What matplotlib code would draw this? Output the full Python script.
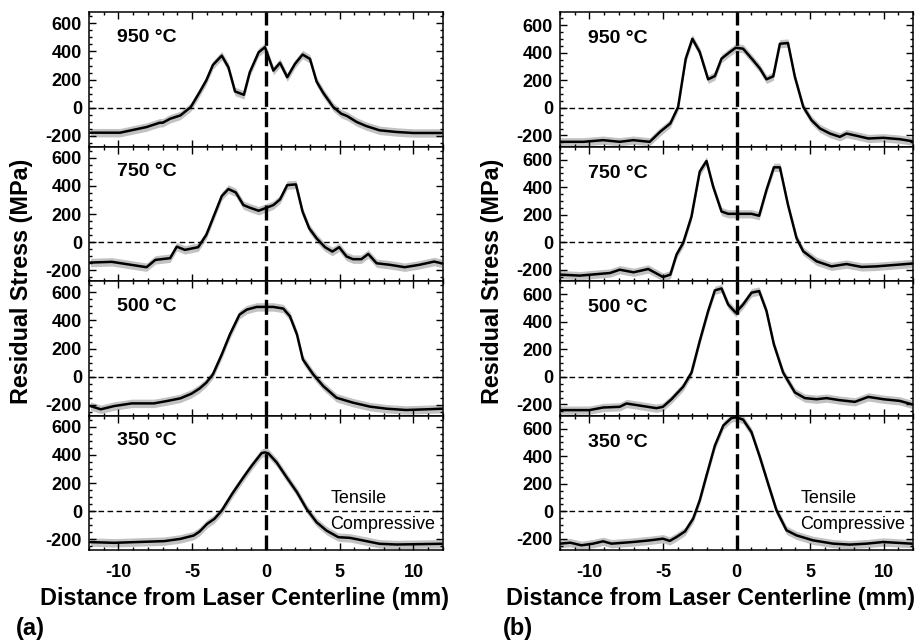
import matplotlib
matplotlib.use("Agg")
import matplotlib.pyplot as plt
from matplotlib.ticker import MultipleLocator
import numpy as np

plt.rcParams['font.family'] = ['Liberation Sans', 'DejaVu Sans']
plt.rcParams['axes.unicode_minus'] = False

temps = ["950 °C", "750 °C", "500 °C", "350 °C"]

# ---- panel (a) ----
a950_x = [-11.9, -9.9, -8.1, -7.2, -7.0, -6.5, -5.8, -5.1, -4.5, -4.05, -3.6, -3.0, -2.55, -2.1, -1.5, -1.1, -0.5, -0.07, 0.5, 0.95, 1.44, 1.96, 2.48, 2.98, 3.43, 3.88, 4.56, 5.1, 5.5, 6.15, 6.8, 7.7, 8.85, 9.97, 11.9]
a950_y = [-177, -177, -137, -106, -106, -78, -54, 5, 111, 194, 304, 370, 288, 116, 92, 252, 394, 430, 264, 319, 217, 311, 378, 347, 186, 106, 5, -42, -59, -101, -130, -160, -172, -179, -179]

a750_x = [-11.9, -10.45, -8.1, -7.5, -6.5, -6.05, -5.5, -4.6, -4.05, -3.6, -3.0, -2.55, -2.05, -1.53, -1.08, -0.5, -0.07, 0.5, 0.95, 1.44, 2.03, 2.48, 2.93, 3.43, 4.0, 4.5, 4.96, 5.46, 5.9, 6.47, 6.93, 7.5, 8.4, 9.4, 10.4, 11.4, 11.9]
a750_y = [-144, -139, -177, -125, -113, -31, -54, -35, 52, 170, 328, 378, 354, 264, 245, 224, 241, 264, 304, 406, 411, 217, 99, 28, -35, -66, -35, -101, -120, -120, -83, -149, -160, -177, -160, -137, -149]

a500_x = [-11.9, -11.2, -10.3, -9.1, -7.6, -6.7, -5.8, -5.05, -4.5, -4.05, -3.6, -3.0, -2.45, -1.8, -1.3, -0.63, -0.07, 0.5, 1.17, 1.62, 2.1, 2.5, 3.2, 3.88, 4.78, 5.9, 7.05, 8.2, 9.5, 10.9, 11.9]
a500_y = [-208, -231, -208, -189, -189, -172, -153, -120, -83, -42, 17, 158, 300, 441, 477, 496, 496, 496, 484, 430, 300, 123, 17, -66, -149, -184, -212, -227, -236, -231, -227]

a350_x = [-11.9, -10.3, -6.9, -5.8, -4.9, -4.5, -4.0, -3.5, -3.0, -2.3, -1.53, -0.97, -0.3, -0.07, 0.16, 0.72, 1.4, 2.1, 2.75, 3.43, 4.1, 4.9, 5.7, 6.8, 7.7, 8.85, 11.9]
a350_y = [-219, -224, -212, -196, -172, -144, -90, -54, 5, 123, 241, 323, 413, 418, 411, 347, 241, 135, 17, -78, -137, -184, -189, -212, -231, -236, -231]

# ---- panel (b) ----
b950_x = [-12.0, -10.4, -9.07, -7.94, -7.03, -5.9, -5.2, -4.5, -3.97, -3.45, -3.0, -2.5, -1.93, -1.47, -1.02, -0.45, -0.05, 0.45, 1.13, 1.6, 2.04, 2.5, 2.95, 3.5, 3.97, 4.54, 5.1, 5.67, 6.35, 7.03, 7.48, 8.16, 8.96, 9.98, 11.1, 11.9]
b950_y = [-246, -246, -234, -246, -234, -246, -174, -113, 7, 357, 501, 405, 207, 231, 357, 405, 436, 429, 345, 284, 207, 229, 465, 470, 224, 7, -89, -149, -186, -210, -186, -202, -222, -217, -227, -241]

b750_x = [-12.0, -10.66, -8.6, -7.94, -7.0, -6.0, -5.0, -4.5, -4.08, -3.63, -3.06, -2.5, -2.04, -1.59, -1.02, -0.57, 0.0, 1.02, 1.54, 2.04, 2.54, 2.95, 3.5, 4.08, 4.54, 5.44, 6.46, 7.48, 8.5, 9.5, 11.9]
b750_y = [-234, -241, -222, -198, -217, -193, -251, -234, -89, -5, 188, 513, 590, 405, 224, 207, 207, 207, 193, 381, 544, 544, 272, 31, -65, -137, -174, -157, -178, -174, -154]

b500_x = [-12.0, -10.0, -9.07, -7.94, -7.48, -6.46, -5.44, -5.0, -4.42, -3.63, -3.06, -2.5, -1.93, -1.47, -1.02, -0.57, -0.05, 0.45, 1.02, 1.54, 2.04, 2.54, 3.17, 3.97, 4.65, 5.44, 6.12, 7.03, 8.05, 8.96, 9.98, 11.1, 11.9]
b500_y = [-241, -241, -222, -217, -193, -210, -227, -217, -162, -72, 31, 260, 477, 627, 641, 525, 465, 525, 610, 622, 477, 236, 31, -113, -154, -162, -154, -169, -181, -145, -162, -174, -198]

b350_x = [-12.0, -11.3, -10.54, -9.75, -9.07, -8.5, -7.03, -5.9, -5.0, -4.54, -4.08, -3.5, -2.95, -2.5, -2.04, -1.47, -0.9, -0.34, 0.0, 0.45, 1.02, 1.59, 2.15, 2.72, 3.4, 4.08, 5.2, 6.58, 7.7, 8.84, 9.98, 11.9]
b350_y = [-234, -227, -246, -234, -217, -234, -222, -210, -198, -214, -186, -145, -53, 80, 260, 477, 622, 677, 682, 665, 574, 393, 200, 7, -137, -174, -210, -234, -241, -234, -222, -234]

panel_a = [(a950_x, a950_y), (a750_x, a750_y), (a500_x, a500_y), (a350_x, a350_y)]
panel_b = [(b950_x, b950_y), (b750_x, b750_y), (b500_x, b500_y), (b350_x, b350_y)]

band = 30  # uncertainty band half-width (MPa)

W, H = 920, 642
fig = plt.figure(figsize=(9.2, 6.42), dpi=100)

top_px = 12
row_h = 134.5
cols = [(89, 443, panel_a, (-275, 680)), (560, 913, panel_b, (-280, 695))]

for (lpx, rpx, data, ylim) in cols:
    for k, (xs, ys) in enumerate(data):
        bottom = H - (top_px + row_h * (k + 1))
        ax = fig.add_axes([lpx / W, bottom / H, (rpx - lpx) / W, row_h / H])
        xs = np.array(xs); ys = np.array(ys)
        ax.fill_between(xs, ys - band, ys + band, color='#c2c2c2', lw=0, zorder=1)
        ax.plot(xs, ys, color='black', lw=1.8, zorder=3)
        ax.axhline(0, color='black', lw=1.0, ls=(0, (4, 2.5)), zorder=2)
        ax.axvline(0, color='black', lw=2.4, ls=(0, (4.5, 1.6)), zorder=4)
        ax.set_xlim(-12, 12)
        ax.set_ylim(*ylim)
        ax.xaxis.set_major_locator(MultipleLocator(5))
        ax.xaxis.set_minor_locator(MultipleLocator(1))
        ax.yaxis.set_minor_locator(MultipleLocator(50))
        ax.set_yticks([-200, 0, 200, 400, 600])
        ax.tick_params(which='both', direction='in', top=True, right=True, width=1.0)
        ax.tick_params(which='major', length=5)
        ax.tick_params(which='minor', length=2.5)
        ax.tick_params(axis='y', labelsize=13, pad=5)
        ax.tick_params(axis='x', labelsize=13, pad=10)
        for lab in ax.get_yticklabels() + ax.get_xticklabels():
            lab.set_fontweight('bold')
        for sp in ax.spines.values():
            sp.set_linewidth(1.1)
        if k < 3:
            ax.tick_params(axis='x', labelbottom=False)
        ax.text(-10.1, 500, temps[k], fontsize=14, fontweight='bold', va='center', ha='left', zorder=5)
        if k == 3:
            ax.text(4.35, 90, "Tensile", fontsize=13, va='center', ha='left')
            ax.text(4.35, -92, "Compressive", fontsize=13, va='center', ha='left')

# y labels
fig.text(22 / W, 1 - 281 / H, "Residual Stress (MPa)", rotation=90, fontsize=16.8,
         fontweight='bold', ha='center', va='center')
fig.text(493 / W, 1 - 281 / H, "Residual Stress (MPa)", rotation=90, fontsize=16.8,
         fontweight='bold', ha='center', va='center')
# x labels
fig.text(245 / W, 1 - 598 / H, "Distance from Laser Centerline (mm)", fontsize=16.8,
         fontweight='bold', ha='center', va='center')
fig.text(711 / W, 1 - 598 / H, "Distance from Laser Centerline (mm)", fontsize=16.8,
         fontweight='bold', ha='center', va='center')
# panel letters
fig.text(16 / W, 1 - 628 / H, "(a)", fontsize=17, fontweight='bold', ha='left', va='center')
fig.text(503 / W, 1 - 628 / H, "(b)", fontsize=17, fontweight='bold', ha='left', va='center')

fig.savefig("out.png", dpi=100)
